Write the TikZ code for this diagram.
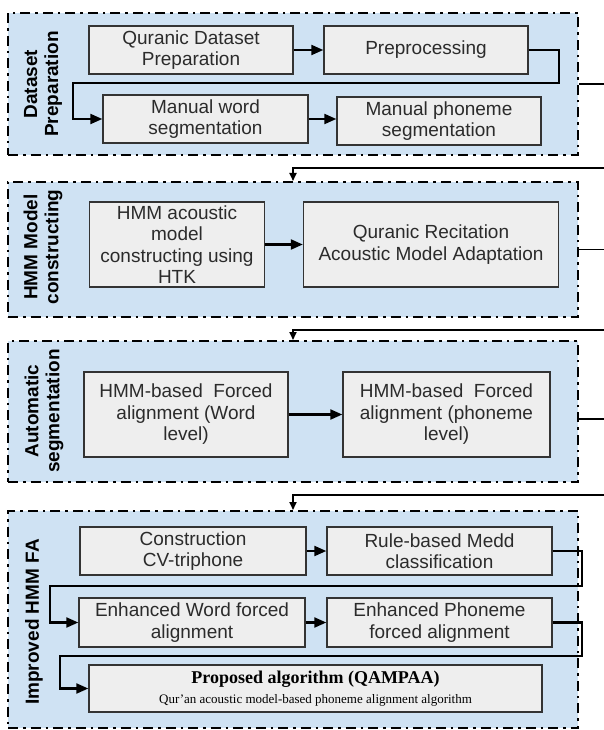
\documentclass[tikz,border=0pt]{standalone}
\usepackage{fontspec}
\setmainfont{Liberation Sans}
\newfontfamily\timesfont{Liberation Serif}
\usetikzlibrary{arrows.meta}
\definecolor{panelblue}{HTML}{CFE2F3}
\definecolor{boxgray}{HTML}{EEEEEE}
\definecolor{boxline}{HTML}{333333}
\definecolor{boxtext}{HTML}{2B2B2B}
\tikzset{
  panel/.style={draw=black, fill=panelblue, line width=2pt,
    dash pattern=on 10pt off 5pt on 2.5pt off 5pt, inner sep=0pt, minimum width=570pt},
  stepbox/.style={draw=boxline, fill=boxgray, line width=1.4pt, inner sep=0pt,
    align=center, text=boxtext, font=\fontsize{19}{21.5}\selectfont},
  plabel/.style={rotate=90, align=center, font=\bfseries\fontsize{19}{21}\selectfont},
  conn/.style={draw=black, line width=2.2pt, -{Triangle[length=12pt,width=10pt]}},
  outconn/.style={draw=black, line width=1.7pt, -{Triangle[length=8pt,width=7pt]}}
}
\begin{document}
\begin{tikzpicture}[x=1pt,y=-1pt]
\useasboundingbox (0,0) rectangle (604,730);
\clip (0,0) rectangle (604,730);
\fill[white] (0,0) rectangle (604,730);

% panels
\node[panel, minimum height=142pt] (P1) at (293,84) {};
\node[panel, minimum height=135pt] (P2) at (293,249.5) {};
\node[panel, minimum height=141pt] (P3) at (293,411.5) {};
\node[panel, minimum height=217pt] (P4) at (293,619.5) {};

% panel labels
\node[plabel] (L1) at (43,84) {Dataset\\Preparation};
\node[plabel] (L2) at (43,247) {HMM Model\\constructing};
\node[plabel] (L3) at (44,411) {Automatic\\segmentation};
\node[plabel] (L4) at (34,622) {Improved HMM FA};

% panel 1 boxes
\node[stepbox, minimum width=204pt, minimum height=48pt] (QDP) at (191,50) {Quranic Dataset\\Preparation};
\node[stepbox, minimum width=204pt, minimum height=48pt] (PRE) at (426,50) {Preprocessing};
\node[stepbox, minimum width=205pt, minimum height=48pt] (MW) at (205.5,119) {Manual word\\segmentation};
\node[stepbox, minimum width=204pt, minimum height=48pt] (MP) at (439,121) {Manual phoneme\\segmentation};

% panel 2 boxes
\node[stepbox, minimum width=175pt, minimum height=85pt] (HA) at (177,244.5) {HMM acoustic\\model\\constructing using\\HTK};
\node[stepbox, minimum width=255pt, minimum height=85pt] (QR) at (431,244.5) {Quranic Recitation\\Acoustic Model Adaptation};

% panel 3 boxes
\node[stepbox, minimum width=204pt, minimum height=85pt] (FW) at (186,414.5) {HMM-based\ \ Forced\\alignment (Word\\level)};
\node[stepbox, minimum width=207pt, minimum height=85pt] (FP) at (446.5,414.5) {HMM-based\ \ Forced\\alignment (phoneme\\level)};

% panel 4 boxes
\node[stepbox, minimum width=226pt, minimum height=48pt] (CT) at (193,551) {Construction\\CV-triphone};
\node[stepbox, minimum width=225pt, minimum height=48pt] (RM) at (439.5,551) {Rule-based Medd\\classification};
\node[stepbox, minimum width=226pt, minimum height=49pt] (EW) at (192,622.5) {Enhanced Word forced\\alignment};
\node[stepbox, minimum width=225pt, minimum height=49pt] (EP) at (439.5,622.5) {Enhanced Phoneme\\forced alignment};
\node[stepbox, minimum width=453pt, minimum height=47pt, text=black] (PA) at (315.5,688.5)
  {{\timesfont\bfseries\fontsize{18}{20}\selectfont Proposed algorithm (QAMPAA)}\\[-2pt]
   {\timesfont\fontsize{13}{15}\selectfont Qur’an acoustic model-based phoneme alignment algorithm}};

% turning points
\coordinate (a1) at (559,83);
\coordinate (a2) at (73,83);
\coordinate (b1) at (582,586);
\coordinate (b2) at (50,586);
\coordinate (c1) at (582,656);
\coordinate (c2) at (60,656);
\coordinate (r1) at (625,168);
\coordinate (r2) at (625,330);
\coordinate (r3) at (625,495);
\coordinate (e3) at (578,419);

% connectors inside panels
\draw[conn] (QDP.east) -- (PRE.west);
\draw[conn] (PRE.east) -| (a1) -- (a2) |- (MW.west);
\draw[conn] (MW.east) -- (MW.east -| MP.west);
\draw[conn] (HA.east) -- (QR.west);
\draw[conn] (FW.east) -- (FP.west);
\draw[conn] (CT.east) -- (RM.west);
\draw[conn] (RM.east) -| (b1) -- (b2) |- (EW.west);
\draw[conn] (EW.east) -- (EP.west);
\draw[conn] (EP.east) -| (c1) -- (c2) |- (PA.west);

% connectors between panels
\draw[outconn] (P1.east) -| (r1) -- (P2.north |- r1) -- (P2.north);
\draw[outconn] (P2.east) -| (r2) -- (P3.north |- r2) -- (P3.north);
\draw[outconn] (e3) -| (r3) -- (P4.north |- r3) -- (P4.north);
\end{tikzpicture}
\end{document}
